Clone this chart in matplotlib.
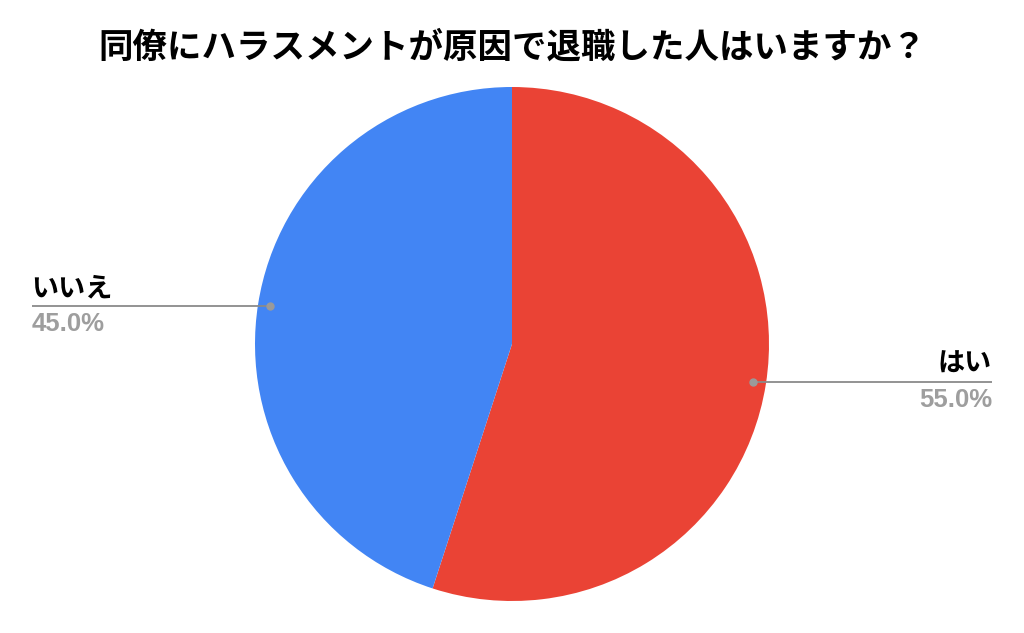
import matplotlib
matplotlib.use("Agg")
import matplotlib.pyplot as plt

title = "同僚にハラスメントが原因で退職した人はいますか？"
labels = ["はい", "いいえ"]
values = [55.0, 45.0]
colors = ["#EA4335", "#4285F4"]

W, H = 1024, 633
fig = plt.figure(figsize=(W / 100, H / 100), dpi=100)
ax = fig.add_axes([0, 0, 1, 1])
ax.set_xlim(0, W)
ax.set_ylim(0, H)
ax.set_aspect("equal")
ax.axis("off")

cx, cy, r = 512, H - 344, 257
ax.pie(values, colors=colors, startangle=90, counterclock=False,
       center=(cx, cy), radius=r, frame=True,
       wedgeprops=dict(linewidth=0))
ax.set_xlim(0, W)
ax.set_ylim(0, H)
ax.axis("off")

jp = ["Noto Sans CJK JP", "DejaVu Sans"]
num = ["Liberation Sans", "DejaVu Sans"]
line_c = "#8a8a8a"
pct_c = "#9e9e9e"

# いいえ (left)
y1 = H - 306
ax.plot([32, 270], [y1, y1], color=line_c, lw=1.3, solid_capstyle="butt")
ax.plot([270], [y1], "o", color="#9a9a9a", ms=5)
ax.text(31, y1 + 4, labels[1], family=jp, fontsize=19.5, fontweight="bold",
        ha="left", va="bottom", color="#000000")
ax.text(32, y1 - 6, f"{values[1]:.1f}%", family=num, fontsize=18.5,
        fontweight="bold", ha="left", va="top", color=pct_c)

# はい (right)
y2 = H - 382
ax.plot([753, 992], [y2, y2], color=line_c, lw=1.3, solid_capstyle="butt")
ax.plot([753], [y2], "o", color="#9a9a9a", ms=5)
ax.text(992, y2 + 4, labels[0], family=jp, fontsize=19.5, fontweight="bold",
        ha="right", va="bottom", color="#000000")
ax.text(992, y2 - 6, f"{values[0]:.1f}%", family=num, fontsize=18.5,
        fontweight="bold", ha="right", va="top", color=pct_c)

fig.text(512 / W, 1 - 47 / H, title, family=jp, fontsize=24.8,
         fontweight="bold", ha="center", va="center", color="#000000")

fig.savefig("out.png", dpi=100, facecolor="white")
